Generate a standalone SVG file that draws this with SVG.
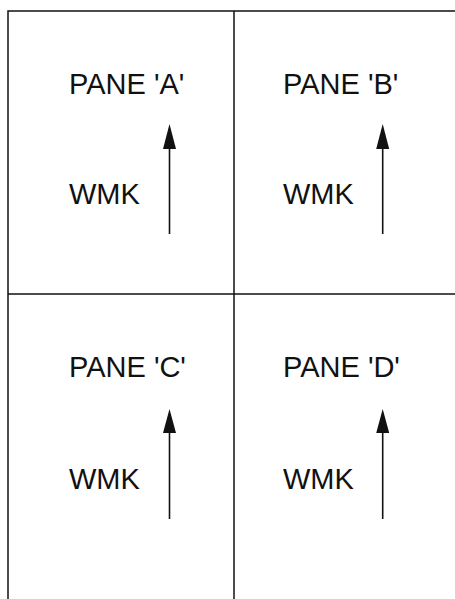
<svg xmlns="http://www.w3.org/2000/svg" width="455" height="599" viewBox="0 0 455 599">
<style>
.frame{fill:none;stroke:#111;stroke-width:1.5}
.lbl{font-family:"Liberation Sans",Arial,sans-serif;font-size:29px;fill:#111}
.arr{stroke:#111;stroke-width:1.6;fill:none}
.head{fill:#111}
</style>
<rect width="455" height="599" fill="#fff"/>
<g id="frame">
<path class="frame" d="M8,599 V11 H455"/>
<path class="frame" d="M234,11 V599"/>
<path class="frame" d="M8,294 H455"/>
</g>
<g id="pane-a">
<text class="lbl" x="69" y="94">PANE 'A'</text>
<text class="lbl" x="69" y="204">WMK</text>
</g>
<g id="pane-b">
<text class="lbl" x="283" y="94">PANE 'B'</text>
<text class="lbl" x="283" y="204">WMK</text>
</g>
<g id="pane-c">
<text class="lbl" x="69" y="377">PANE 'C'</text>
<text class="lbl" x="69" y="489">WMK</text>
</g>
<g id="pane-d">
<text class="lbl" x="283" y="377">PANE 'D'</text>
<text class="lbl" x="283" y="489">WMK</text>
</g>
<g id="connectors">
<line class="arr" x1="169.5" y1="234" x2="169.5" y2="146"/>
<polygon class="head" points="169.5,124 163,149 176,149"/>
<line class="arr" x1="382.7" y1="234" x2="382.7" y2="146"/>
<polygon class="head" points="382.7,124 376.2,149 389.2,149"/>
<line class="arr" x1="169.5" y1="519" x2="169.5" y2="430"/>
<polygon class="head" points="169.5,409 163,433 176,433"/>
<line class="arr" x1="382.7" y1="519" x2="382.7" y2="430"/>
<polygon class="head" points="382.7,409 376.2,433 389.2,433"/>
</g>
</svg>
